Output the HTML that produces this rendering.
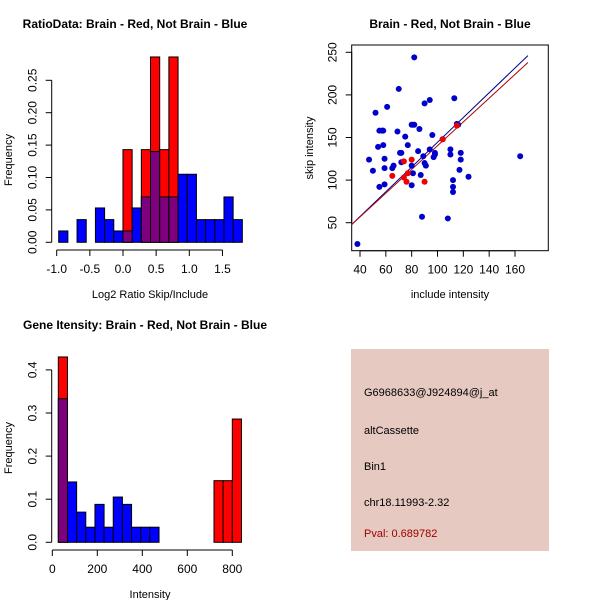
<!DOCTYPE html>
<html><head><meta charset="utf-8"><style>
body{margin:0;background:#fff}
svg{font-family:"Liberation Sans",sans-serif;display:block}
</style></head><body>
<svg id="s" width="600" height="600" xmlns="http://www.w3.org/2000/svg">
<rect width="600" height="600" fill="#fff"/>
<g id="p1"></g>
<g id="p2"></g>
<g id="p3"></g>
<g>
<rect x="351" y="349" width="198" height="202" fill="#e6c9c1"/>
<text x="364" y="396" font-size="11">G6968633@J924894@j_at</text>
<text x="364" y="434" font-size="11">altCassette</text>
<text x="364" y="470" font-size="11">Bin1</text>
<text x="364" y="506" font-size="11">chr18.11993-2.32</text>
<text x="364" y="537" font-size="11" fill="#a00000">Pval: 0.689782</text>
</g>
</svg>
<script>
// ---- data: ratio histogram
const ratioStart = -0.97, ratioWidth = 0.1385;
const ratioBlue = [0.0175,0,0.035,0,0.053,0.035,0.0175,0.0175,0.053,0.07,0.14,0.07,0.07,0.105,0.105,0.035,0.035,0.035,0.07,0.035];
const ratioRed  = [0,0,0,0,0,0,0,0.143,0,0.143,0.286,0.143,0.286,0,0,0,0,0,0,0];
const ratioXTicks = [-1.0,-0.5,0.0,0.5,1.0,1.5];
const ratioXTickLabels = ["-1.0","-0.5","0.0","0.5","1.0","1.5"];
const ratioYTicks = [0,0.05,0.10,0.15,0.20,0.25];
const ratioYTickLabels = ["0.00","0.05","0.10","0.15","0.20","0.25"];
// ---- data: scatter
const blueX = [38,47,50,52,54,55,55,57,58,58,59,59,59,61,65,66,69,70,71,72,72,75,77,80,81,82,80,81,80,82,85,86,87,88,89,90,90,91,94,94,96,97,98,98,104,108,110,110,112,112,112,113,115,116,117,118,118,124,164];
const blueY = [25,124,111,179,139,92,158,158,158,141,125,114,95,186,114,117,157,207,132,132,121,151,141,165,165,165,117,108,94,244,134,160,106,57,128,120,190,117,194,136,153,127,132,130,148,55,136,130,100,92,86,196,166,165,112,124,132,104,128];
const redX = [65,74,74,76,77,80,90,104,115];
const redY = [105,122,103,98,108,124,98,148,164];
const blueFit = [-0.9, 1.453];
const redFit = [1.0, 1.394];
const scXTicks = [40,60,80,100,120,140,160];
const scYTicks = [50,100,150,200,250];
// ---- data: gene intensity histogram
const geneStart = 26.7, geneWidth = 40.7;
const geneBlue = [0.333,0.14,0.07,0.035,0.088,0.035,0.105,0.088,0.035,0.035,0.035];
const geneRed  = [0.43,0,0,0,0,0,0,0,0,0,0,0,0,0,0,0,0,0.143,0.143,0.286];
const geneXTicks = [0,200,400,600,800];
const geneYTicks = [0,0.1,0.2,0.3,0.4];
const geneYTickLabels = ["0.0","0.1","0.2","0.3","0.4"];

const NS="http://www.w3.org/2000/svg";
function mk(parent,tag,attrs,text){const e=document.createElementNS(NS,tag);for(const k in attrs)e.setAttribute(k,attrs[k]);if(text!==undefined)e.textContent=text;parent.appendChild(e);return e;}

function axes(g,xs,ys,xt,xl,yt,yl,xAxisY,yAxisX,title,tx,ty,xlab,xlx,xly,ylab,ylx,yly){
  let t=mk(g,'text',{x:tx,y:ty,'font-size':12,'font-weight':'bold','text-anchor':'middle'},title);
  
  let a=mk(g,'line',{x1:xs(xt[0]),x2:xs(xt[xt.length-1]),y1:xAxisY,y2:xAxisY,stroke:'#000'});
  
  xt.forEach((v,i)=>{mk(g,'line',{x1:xs(v),x2:xs(v),y1:xAxisY,y2:xAxisY+6,stroke:'#000'});
    let l=mk(g,'text',{x:xs(v),y:xAxisY+23,'font-size':12,'text-anchor':'middle'},xl[i]);
    });
  let b=mk(g,'line',{x1:yAxisX,x2:yAxisX,y1:ys(yt[0]),y2:ys(yt[yt.length-1]),stroke:'#000'});
  
  yt.forEach((v,i)=>{mk(g,'line',{x1:yAxisX-6,x2:yAxisX,y1:ys(v),y2:ys(v),stroke:'#000'});
    let y=ys(v),x=yAxisX-15;
    let l=mk(g,'text',{x:x,y:y,'font-size':12,'text-anchor':'middle',transform:`rotate(-90 ${x} ${y})`},yl[i]);
    });
  let x1=mk(g,'text',{x:xlx,y:xly,'font-size':11,'text-anchor':'middle'},xlab);
  
  let y1=mk(g,'text',{x:ylx,y:yly,'font-size':11,'text-anchor':'middle',transform:`rotate(-90 ${ylx} ${yly})`},ylab);
  
}

function hist(g,xs,ys,start,w,red,blue){
  const n=Math.max(red.length,blue.length);
  for(let i=0;i<n;i++){
    const r=red[i]||0,b=blue[i]||0;
    const x0=xs(start+i*w),x1=xs(start+(i+1)*w);
    if(r>0){const e=mk(g,'rect',{x:x0,y:ys(r),width:x1-x0,height:ys(0)-ys(r),fill:'#ff0000',stroke:'#000','stroke-width':1});
      }
    if(b>0){const e=mk(g,'rect',{x:x0,y:ys(b),width:x1-x0,height:ys(0)-ys(b),fill:r>0?'#7f007f':'#0000ff',stroke:'#000','stroke-width':1});
      
      if(r>0&&r<b){const o=mk(g,'rect',{x:x0,y:ys(b),width:x1-x0,height:ys(r)-ys(b),fill:'#0000ff',stroke:'#000','stroke-width':1});
        }}
  }
}

// Plot 1
(function(){
  const g=document.getElementById('p1');
  const xs=v=>56.7+(v+1)*66.3, ys=v=>242.3-v*648;
  hist(g,xs,ys,ratioStart,ratioWidth,ratioRed,ratioBlue);
  axes(g,xs,ys,ratioXTicks,ratioXTickLabels,ratioYTicks,ratioYTickLabels,250,51.7,
    'RatioData: Brain - Red, Not Brain - Blue',135,28,'Log2 Ratio Skip/Include',150,298,'Frequency',12,160);
})();
// Plot 2
(function(){
  const g=document.getElementById('p2');
  const xs=v=>360+(v-40)*1.2917, ys=v=>222.7-(v-50)*0.852;
  const box=mk(g,'rect',{x:351.7,y:45,width:196.6,height:205.7,fill:'none',stroke:'#000'});
  
  const cp=mk(g,'clipPath',{id:'c2'});mk(cp,'rect',{x:351.7,y:45,width:196.6,height:205.7});
  [[blueFit,'#00008b','fit-line-blue'],[redFit,'#b00000','fit-line-red']].forEach(([f,c,n])=>{
    const xa=33,xb=170;
    const l=mk(g,'line',{x1:xs(xa),y1:ys(f[0]+f[1]*xa),x2:xs(xb),y2:ys(f[0]+f[1]*xb),stroke:c,'clip-path':'url(#c2)'});
    });
  blueX.forEach((x,i)=>{const p=mk(g,'circle',{cx:xs(x),cy:ys(blueY[i]),r:3,fill:'#0000cc'});
    });
  redX.forEach((x,i)=>{const p=mk(g,'circle',{cx:xs(x),cy:ys(redY[i]),r:3,fill:'#ee0000'});
    });
  axes(g,xs,ys,scXTicks,scXTicks.map(String),scYTicks,scYTicks.map(String),250.7,351.7,
    'Brain - Red, Not Brain - Blue',450,28,'include intensity',450,298,'skip intensity',313,148);
})();
// Plot 3
(function(){
  const g=document.getElementById('p3');
  const xs=v=>52.3+v*0.225, ys=v=>542.3-v*431;
  hist(g,xs,ys,geneStart,geneWidth,geneRed,geneBlue);
  axes(g,xs,ys,geneXTicks,geneXTicks.map(String),geneYTicks,geneYTickLabels,550,51.7,
    'Gene Itensity: Brain - Red, Not Brain - Blue',145,329,'Intensity',150,598,'Frequency',12,448);
})();
</script>
</body></html>
